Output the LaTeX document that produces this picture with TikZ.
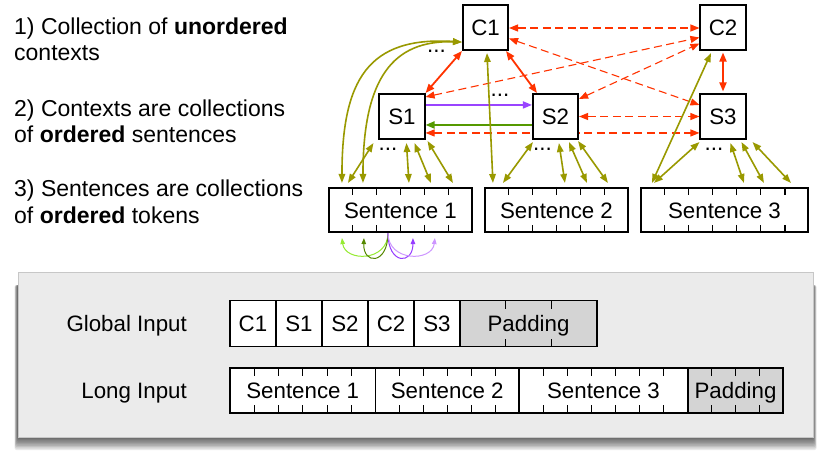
\documentclass[tikz,border=0pt]{standalone}
\usepackage{fontspec}
\setmainfont{Liberation Sans}
\usetikzlibrary{arrows.meta,calc}
\pgfdeclarelayer{bg}
\pgfsetlayers{bg,main}
\definecolor{redc}{RGB}{255,51,0}
\definecolor{olivec}{RGB}{153,153,0}
\definecolor{purpc}{RGB}{153,68,255}
\definecolor{grnc}{RGB}{85,153,0}
\definecolor{lgrn}{RGB}{150,235,50}
\definecolor{dgrn}{RGB}{85,136,0}
\definecolor{spurp}{RGB}{150,60,255}
\definecolor{lpurp}{RGB}{205,150,255}
\definecolor{panelc}{RGB}{235,235,235}
\definecolor{padc}{RGB}{212,212,212}
\begin{document}
\begin{tikzpicture}[x=1pt,y=-1pt,
  every node/.style={inner sep=0pt},
  mainfont/.style={font=\fontsize{22.3}{26.7}\selectfont},
  leftfont/.style={font=\fontsize{23}{27.5}\selectfont},
  box/.style={mainfont,draw=black,line width=1.6pt,fill=white,minimum width=45.5pt,minimum height=45.5pt,text height=16pt,text depth=0pt},
  senbox/.style={mainfont,draw=black,line width=1.6pt,fill=white,minimum width=143.5pt,minimum height=44.5pt,text height=16pt,text depth=0pt},
  cell/.style={mainfont,draw=black,line width=1.3pt,outer sep=0pt,fill=white,text height=16pt,text depth=0pt,anchor=west},
  dotsn/.style={mainfont,anchor=base},
  tick/.style={line width=1.2pt},
  rsolid/.style={draw=redc,line width=1.8pt,>={Triangle[length=9pt,width=7pt]},<->},
  rdash/.style={draw=redc,line width=1.1pt,dash pattern=on 8pt off 4.5pt,>={Triangle[length=9pt,width=7pt]},<->},
  olva/.style={draw=olivec,line width=1.6pt,>={Triangle[length=9pt,width=6.5pt]},<->},
  purpa/.style={draw=purpc,line width=1.6pt,>={Triangle[length=9pt,width=7pt]},->},
  grna/.style={draw=grnc,line width=2pt,>={Triangle[length=9pt,width=7pt]},->},
  sarc/.style={draw=#1,line width=1pt,>={Triangle[length=6pt,width=4.5pt]},->},
]
\useasboundingbox (0,0) rectangle (830,464);
\begin{pgfonlayer}{bg}
\fill[white] (0,0) rectangle (830,464);
\end{pgfonlayer}

% left text
\node[leftfont,anchor=base west] (t1a) at (14,34) {1) Collection of \textbf{unordered}};
\node[leftfont,anchor=base west] (t1b) at (14,60.7) {contexts};
\node[leftfont,anchor=base west] (t2a) at (14,116) {2) Contexts are collections};
\node[leftfont,anchor=base west] (t2b) at (14,142.7) {of \textbf{ordered} sentences};
\node[leftfont,anchor=base west] (t3a) at (14,196.7) {3) Sentences are collections};
\node[leftfont,anchor=base west] (t3b) at (14,223.3) {of \textbf{ordered} tokens};

% graph nodes
\node[box] (C1) at (485.5,27.5) {C1};
\node[box] (C2) at (723,27.5) {C2};
\node[box] (S1) at (402,116.5) {S1};
\node[box] (S2) at (555.5,116.5) {S2};
\node[box] (S3) at (723,116.5) {S3};
\node[senbox] (sen1) at (400.5,210) {Sentence 1};
\node[senbox] (sen2) at (556.5,210) {Sentence 2};
\node[senbox,minimum width=167.5pt] (sen3) at (724.5,210) {Sentence 3};

\foreach \n/\k in {sen1/6,sen2/6,sen3/7} {
  \pgfmathtruncatemacro\km{\k-1}
  \foreach \i in {1,...,\km} {
    \draw[tick] ($(\n.north west)!\i/\k!(\n.north east)$) -- ++(0,8);
    \draw[tick] ($(\n.south west)!\i/\k!(\n.south east)$) -- ++(0,-8);
  }
}

% dots
\node[dotsn] (d0) at (436.5,52.5) {...};
\node[dotsn] (d1) at (500,96) {...};
\node[dotsn] (d2) at (388,150.5) {...};
\node[dotsn] (d3) at (542.5,150.5) {...};
\node[dotsn] (d4) at (714,150.5) {...};

\begin{pgfonlayer}{bg}
% red solid
\draw[rsolid] (C1.south west) -- (S1.north east);
\draw[rsolid] ([xshift=-3pt]C1.south east) -- ([xshift=5pt]S2.north west);
\draw[rsolid] ([yshift=-1.5pt]C2.south) -- ([yshift=1.5pt]S3.north);
% purple / green
\draw[purpa] ([yshift=-12pt]S1.north east) -- ([yshift=-12pt]S2.north west);
\draw[grna] ([yshift=-32pt]S2.north west) -- ([yshift=-32pt]S1.north east);
% red dashed
\draw[rdash] ([yshift=-0.5pt]C1.east) -- ([yshift=-0.5pt]C2.west);
\draw[rdash] ([yshift=-11pt]C1.east) -- ([yshift=-12pt]S3.north west);
\draw[rdash] ([yshift=-4pt]S1.north east) -- ([yshift=-10pt]C2.west);
\draw[rdash] ([yshift=-6pt]S2.north east) -- ([yshift=-16pt]C2.west);
\draw[rdash] (S2.east) -- (S3.west);
\draw[rdash] ([yshift=-40pt]S1.north east) -- ([yshift=-40pt]S3.north west);
% olive
\draw[olva] ([yshift=9pt]C1.south west) .. controls (368,36) and (342,80) .. ([xshift=14pt,yshift=4pt]sen1.north west);
\draw[olva] ([yshift=9pt]C1.south west) .. controls (393,40) and (363,78) .. ([xshift=35pt,yshift=4pt]sen1.north west);
\draw[olva] ([xshift=1.5pt,yshift=-2pt]C1.south) -- ([xshift=9pt,yshift=4pt]sen2.north west);
\draw[olva] ([xshift=-12pt,yshift=-2pt]C2.south) -- ([xshift=12pt,yshift=4pt]sen3.north west);
\draw[olva] ([xshift=-5pt,yshift=-3pt]S1.south west) -- ([xshift=20pt,yshift=4pt]sen1.north west);
\draw[olva] ([xshift=28pt,yshift=-3pt]S1.south west) -- ([xshift=81pt,yshift=4pt]sen1.north west);
\draw[olva] ([xshift=36pt,yshift=-3pt]S1.south west) -- ([xshift=103pt,yshift=4pt]sen1.north west);
\draw[olva] ([xshift=2pt,yshift=-1pt]S1.south east) -- ([xshift=125pt,yshift=4pt]sen1.north west);
\draw[olva] ([xshift=1pt,yshift=-2pt]S2.south west) -- ([xshift=19pt,yshift=4pt]sen2.north west);
\draw[olva] ([xshift=27pt,yshift=-3pt]S2.south west) -- ([xshift=81pt,yshift=4pt]sen2.north west);
\draw[olva] ([xshift=37pt,yshift=-2pt]S2.south west) -- ([xshift=103pt,yshift=4pt]sen2.north west);
\draw[olva] ([xshift=-1pt,yshift=-1pt]S2.south east) -- ([xshift=124pt,yshift=4pt]sen2.north west);
\draw[olva] ([yshift=-2pt]S3.south west) -- ([xshift=14pt,yshift=4pt]sen3.north west);
\draw[olva] ([xshift=31pt,yshift=-3pt]S3.south west) -- ([xshift=104pt,yshift=4pt]sen3.north west);
\draw[olva] ([xshift=42pt,yshift=-2pt]S3.south west) -- ([xshift=124pt,yshift=4pt]sen3.north west);
\draw[olva] ([xshift=6pt,yshift=-2pt]S3.south east) -- ([xshift=151pt,yshift=4pt]sen3.north west);
\end{pgfonlayer}

% small arcs under Sentence 1
\draw[sarc=lgrn] ([xshift=60pt]sen1.south west) .. controls (388,262) and (345,262) .. ([xshift=14pt,yshift=-5pt]sen1.south west);
\draw[sarc=dgrn] ([xshift=60pt]sen1.south west) .. controls (388,265) and (363,265) .. ([xshift=36pt,yshift=-5pt]sen1.south west);
\draw[sarc=spurp] ([xshift=60pt]sen1.south west) .. controls (388,265) and (413,265) .. ([xshift=85pt,yshift=-5pt]sen1.south west);
\draw[sarc=lpurp] ([xshift=60pt]sen1.south west) .. controls (388,262) and (432,262) .. ([xshift=107pt,yshift=-5pt]sen1.south west);

% bottom panel with shadow
\foreach \i in {1,...,10} {
  \fill[black,opacity=0.085,rounded corners=2pt] ({18-0.35*\i},285) rectangle ({813+0.35*\i},{436+1.4*\i});
}
\node[draw=black!22,line width=0.6pt,fill=panelc,minimum width=795pt,minimum height=165pt] (panel) at (415.5,354.5) {};

\node[mainfont,anchor=base east] (gl) at (187,331.5) {Global Input};
\node[mainfont,anchor=base east] (ll) at (187,398.5) {Long Input};

\node[cell,minimum width=46pt,minimum height=46pt] (g1) at (230,323.5) {C1};
\node[cell,minimum width=46pt,minimum height=46pt] (g2) at (g1.east) {S1};
\node[cell,minimum width=46pt,minimum height=46pt] (g3) at (g2.east) {S2};
\node[cell,minimum width=46pt,minimum height=46pt] (g4) at (g3.east) {C2};
\node[cell,minimum width=46pt,minimum height=46pt] (g5) at (g4.east) {S3};
\node[cell,minimum width=137pt,minimum height=46pt,fill=padc] (gp) at (g5.east) {Padding};

\node[cell,minimum width=145.5pt,minimum height=45pt] (l1) at (230,390.5) {Sentence 1};
\node[cell,minimum width=143.5pt,minimum height=45pt] (l2) at (l1.east) {Sentence 2};
\node[cell,minimum width=169pt,minimum height=45pt] (l3) at (l2.east) {Sentence 3};
\node[cell,minimum width=95pt,minimum height=45pt,fill=padc] (lp) at (l3.east) {Padding};

\foreach \n/\k in {gp/3,l1/6,l2/6,l3/7,lp/4} {
  \pgfmathtruncatemacro\km{\k-1}
  \foreach \i in {1,...,\km} {
    \draw[line width=1pt] ($(\n.north west)!\i/\k!(\n.north east)$) -- ++(0,8);
    \draw[line width=1pt] ($(\n.south west)!\i/\k!(\n.south east)$) -- ++(0,-8);
  }
}
\end{tikzpicture}
\end{document}
